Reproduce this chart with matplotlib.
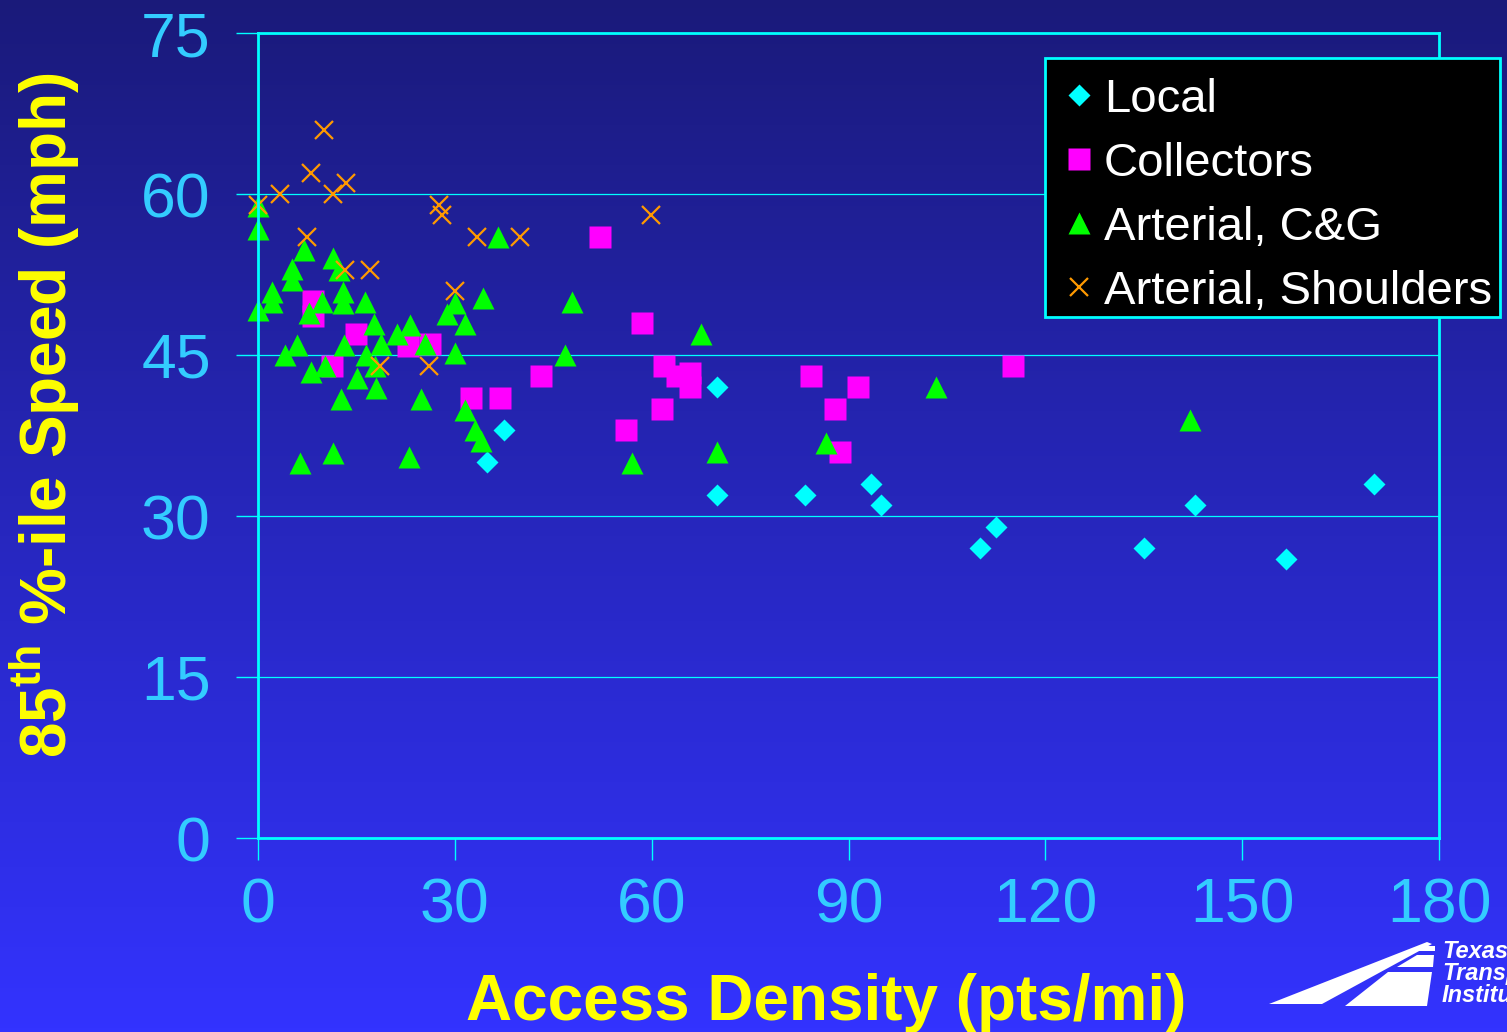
import numpy as np
import matplotlib
matplotlib.use('Agg')
import matplotlib.pyplot as plt
from matplotlib.patches import Polygon, Rectangle

# data
local_x = [37.5, 34.9, 70.0, 70.0, 83.4, 93.4, 95.0, 110.0, 112.5, 135.0, 142.8, 156.7, 170.1]
local_y = [38.0, 35.0, 42.0, 32.0, 32.0, 33.0, 31.0, 27.0, 29.0, 27.0, 31.0, 26.0, 33.0]

coll_x = [8.4, 8.4, 11.3, 14.9, 22.8, 26.2, 43.1, 32.5, 36.9, 52.1, 58.5, 56.1, 61.6,
          61.9, 63.9, 65.8, 65.8, 84.3, 91.5, 87.9, 88.7, 115.1]
coll_y = [50.0, 48.6, 44.0, 47.0, 45.8, 46.0, 43.0, 41.0, 41.0, 56.0, 48.0, 38.0, 40.0,
          44.0, 43.0, 43.3, 42.0, 43.0, 42.0, 40.0, 36.0, 44.0]

cg_x = [0.0, 0.0, 7.0, 11.4, 12.3, 5.2, 5.2, 2.1, 2.1, 0.0, 13.0, 13.0, 9.8, 7.8, 16.3,
        17.7, 21.2, 23.2, 18.8, 25.5, 28.8, 30.0, 31.6, 34.3, 30.0, 5.9, 4.1, 13.1, 16.5,
        8.1, 10.2, 15.1, 17.9, 18.0, 12.6, 24.8, 31.5, 33.1, 34.0, 6.4, 11.4, 23.0, 36.6,
        47.9, 46.8, 57.0, 67.5, 70.0, 103.3, 86.6, 142.1]
cg_y = [58.9, 56.7, 54.8, 54.0, 52.9, 53.0, 52.0, 50.9, 49.9, 49.2, 50.9, 49.8, 49.9, 48.9,
        49.9, 47.9, 47.0, 47.8, 46.0, 46.0, 48.8, 49.8, 47.9, 50.3, 45.2, 45.9, 45.0, 45.9,
        45.0, 43.4, 44.0, 42.9, 44.0, 41.9, 40.9, 40.9, 39.9, 38.0, 37.0, 34.9, 35.9, 35.5,
        56.0, 49.9, 45.0, 34.9, 47.0, 36.0, 42.0, 36.8, 38.9]

sh_x = [10.0, 8.1, 3.3, 11.4, 13.4, 0.0, 7.5, 13.2, 17.0, 27.6, 28.0, 33.4, 40.0, 30.0,
        18.6, 26.0, 59.9]
sh_y = [66.0, 62.0, 60.0, 60.0, 61.0, 59.0, 56.0, 52.9, 52.9, 59.0, 58.0, 56.0, 56.0, 51.0,
        44.0, 44.0, 58.0]

x_ticks = [0, 30, 60, 90, 120, 150, 180]
y_ticks = [0, 15, 30, 45, 60, 75]

W, H = 1507, 1032
TICK_COL = '#33ccff'
CYAN = '#00ffff'
YELLOW = '#ffff00'

plt.rcParams['font.family'] = ['Liberation Sans', 'DejaVu Sans']
plt.rcParams['mathtext.fontset'] = 'custom'
plt.rcParams['mathtext.rm'] = 'Liberation Sans:bold'
plt.rcParams['mathtext.bf'] = 'Liberation Sans:bold'


def fx(px):
    return px / W


def fy(py):
    return 1 - py / H


fig = plt.figure(figsize=(W / 100, H / 100), dpi=100)

# gradient background
bg = fig.add_axes([0, 0, 1, 1], zorder=0)
top = np.array([0x1a, 0x1a, 0x7a]) / 255
bot = np.array([0x33, 0x33, 0xff]) / 255
t = np.linspace(0, 1, 256)[:, None]
grad = (top[None, :] * (1 - t) + bot[None, :] * t)[:, None, :]
bg.imshow(grad, aspect='auto', extent=[0, 1, 0, 1])
bg.axis('off')

ax = fig.add_axes([fx(258), fy(838), fx(1439) - fx(258), fy(33) - fy(838)], zorder=1)
ax.set_facecolor('none')

ax.plot(local_x, local_y, 'D', color='#00ffff', ms=11.5, mec='none', label='Local', clip_on=False)
ax.plot(coll_x, coll_y, 's', color='#ff00ff', ms=16, mec='none', label='Collectors', clip_on=False)
ax.plot(cg_x, cg_y, '^', color='#00ff00', ms=16, mec='none', label='Arterial, C&G', clip_on=False)
ax.plot(sh_x, sh_y, 'x', color='#ff9900', ms=13, mew=1.6, label='Arterial, Shoulders', clip_on=False)

ax.set_xlim(0, 180)
ax.set_ylim(0, 75)
ax.set_xticks(x_ticks)
ax.set_yticks(y_ticks)
ax.yaxis.grid(True, color=CYAN, lw=0.9)
ax.set_axisbelow(True)
for s in ax.spines.values():
    s.set_color(CYAN)
    s.set_linewidth(2)
ax.tick_params(axis='both', colors=CYAN, length=16, width=1, direction='out',
               labelcolor=TICK_COL, labelsize=45)
ax.tick_params(axis='x', pad=12)
ax.tick_params(axis='y', pad=18)

# legend box drawn by hand, entries placed inside it
fig.patches.append(Rectangle((fx(1045), fy(317)), fx(1500) - fx(1045), fy(58) - fy(317),
                             transform=fig.transFigure, facecolor='black', edgecolor=CYAN,
                             lw=2, zorder=4))
leg = fig.legend(loc='upper left', bbox_to_anchor=(fx(1060), fy(78)), fontsize=34,
                 frameon=False, handlelength=0.8, handletextpad=0.13,
                 borderpad=0, labelspacing=0.42, borderaxespad=0, markerscale=1.0)
for txt in leg.get_texts():
    txt.set_color('white')
leg.set_zorder(5)

fig.text(fx(826), fy(1020), 'Access Density (pts/mi)', color=YELLOW, fontsize=46,
         fontweight='bold', ha='center', va='baseline')
fig.text(fx(45), fy(415), r'85$^{\mathrm{th}}$ %-ile Speed (mph)', color=YELLOW, fontsize=46,
         fontweight='bold', ha='center', va='center', rotation=90)

# logo in the corner
logo_shapes = [
    [(1269, 1004), (1322, 1004), (1432, 944), (1427, 942)],
    [(1345, 1006), (1427, 1006), (1432, 972), (1388, 972)],
    [(1397, 967), (1433, 967), (1434, 955), (1417, 955)],
    [(1418, 951), (1435, 951), (1435, 946), (1425, 946)],
]
for pts in logo_shapes:
    fig.patches.append(Polygon([(fx(a), fy(b)) for a, b in pts], closed=True,
                               transform=fig.transFigure, facecolor='white',
                               edgecolor='none', zorder=3))
fig.text(fx(1442), fy(940), 'Texas\nTransportation\nInstitute', color='white', fontsize=17,
         fontweight='bold', style='italic', ha='left', va='top', linespacing=0.95)

fig.savefig('out.png', dpi=100)
